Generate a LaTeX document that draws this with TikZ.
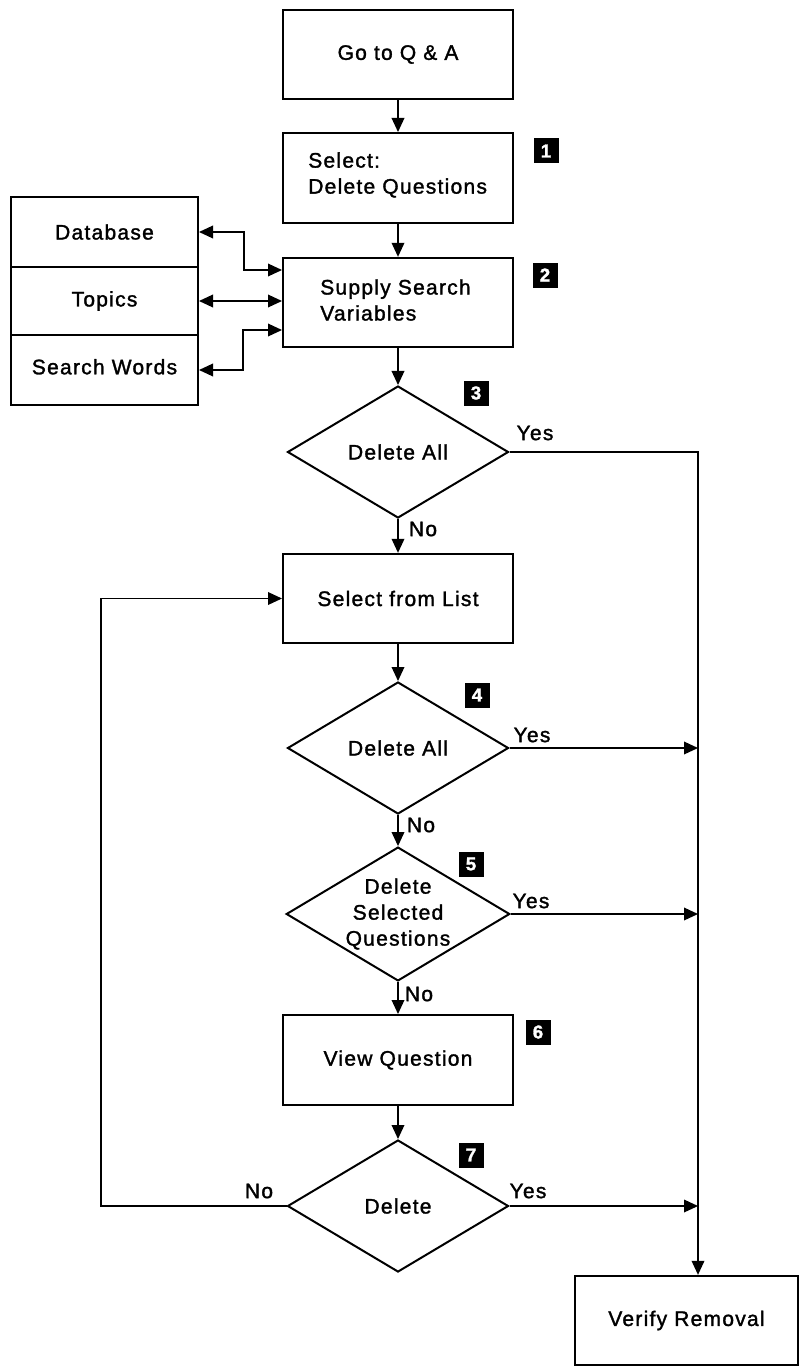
\documentclass[tikz,border=0pt]{standalone}
\usepackage{fontspec}
\setmainfont{Liberation Sans}[LetterSpace=6,FakeBold=1.5]
\usetikzlibrary{shapes.geometric,arrows.meta}
\begin{document}
\begin{tikzpicture}[x=0.75pt,y=-0.75pt,
  every node/.style={font=\fontsize{15.75pt}{19.5pt}\selectfont},
  stepbox/.style={draw, line width=1.5pt, minimum width=172.5pt, minimum height=67pt, inner sep=0pt},
  cell/.style={draw, line width=1.5pt, minimum width=140.25pt, inner sep=0pt},
  decision/.style={diamond, draw, line width=1.5pt, aspect=1.67, minimum width=165.75pt, minimum height=99pt, inner sep=0pt, align=center},
  txt/.style={inner sep=0pt, align=left},
  lbl/.style={inner sep=0pt},
  badge/.style={fill=black, text=white, minimum size=18.75pt, inner sep=0pt, font=\fontsize{14pt}{14pt}\selectfont\bfseries},
  tip/.tip={Triangle[length=10.5pt,width=9.5pt]},
  arr/.style={-tip, line width=1pt},
  biarr/.style={tip-tip, line width=1pt}
]
\fill[white] (0,0) rectangle (804,1366);
\useasboundingbox (0,0) rectangle (804,1366);

% main column
\node[stepbox] (go) at (398,54.5) {Go to Q \& A};
\node[stepbox, minimum height=67.5pt] (sel) at (398,178) {};
\node[txt, anchor=west] (seltext) at (308,175) {Select:\\Delete Questions};
\node[stepbox] (supply) at (398,302.5) {};
\node[txt, anchor=west] (supplytext) at (320,300) {Supply Search\\Variables};
\node[decision] (d3) at (398,452) {Delete All};
\node[stepbox] (list) at (398,598.5) {Select from List};
\node[decision] (d4) at (398,748) {Delete All};
\node[decision] (d5) at (398,914) {Delete\\Selected\\Questions};
\node[stepbox, minimum height=67.5pt] (view) at (398,1060) {View Question};
\node[decision] (d7) at (398,1206) {Delete};
\node[stepbox, minimum width=167.25pt] (verify) at (686.5,1320.5) {Verify Removal};

% search variable stack
\node[cell, minimum height=52.5pt] (db) at (104.5,232) {Database};
\node[cell, minimum height=51pt] (topics) at (104.5,301) {Topics};
\node[cell, minimum height=52.5pt, text depth=5pt] (words) at (104.5,370) {Search Words};

% step numbers
\node[badge] (b1) at (546,151) {1};
\node[badge] (b2) at (545,275) {2};
\node[badge] (b3) at (476,393) {3};
\node[badge] (b4) at (477,695) {4};
\node[badge] (b5) at (471,864) {5};
\node[badge] (b6) at (538,1032) {6};
\node[badge] (b7) at (471,1155) {7};

% branch labels
\node[lbl] (y3) at (535,433) {Yes};
\node[lbl] (n3) at (423,529) {No};
\node[lbl] (y4) at (532,735) {Yes};
\node[lbl] (n4) at (421,825) {No};
\node[lbl] (y5) at (531,901) {Yes};
\node[lbl] (n5) at (419,994) {No};
\node[lbl] (y7) at (528,1191) {Yes};
\node[lbl] (n7) at (259,1191) {No};

% flow
\draw[arr] (go) -- (sel);
\draw[arr] (sel) -- (supply);
\draw[arr] (supply) -- (d3);
\draw[arr] (d3) -- (list);
\draw[arr] (list) -- (d4);
\draw[arr] (d4) -- (d5);
\draw[arr] (d5) -- (view);
\draw[arr] (view) -- (d7);

% exchanges with the stack
\coordinate (dbturn) at (244,270);
\coordinate (wturn) at (243,330);
\draw[biarr] (db.east) -| (dbturn) -- (supply.west |- dbturn);
\draw[biarr] (topics.east) -- (supply.west |- topics.east);
\draw[biarr] (words.east) -| (wturn) -- (supply.west |- wturn);

% yes branches to the verify step
\coordinate (rail) at (698,452);
\draw[arr] (d3.east) -- (rail) -- (rail |- verify.north);
\draw[arr] (d4.east) -- (d4.east -| rail);
\draw[arr] (d5.east) -- (d5.east -| rail);
\draw[arr] (d7.east) -- (d7.east -| rail);

% no branch loops back to the list
\coordinate (loop) at (101,1206);
\draw[arr] (d7.west) -- (loop) |- (list.west);
\end{tikzpicture}
\end{document}
